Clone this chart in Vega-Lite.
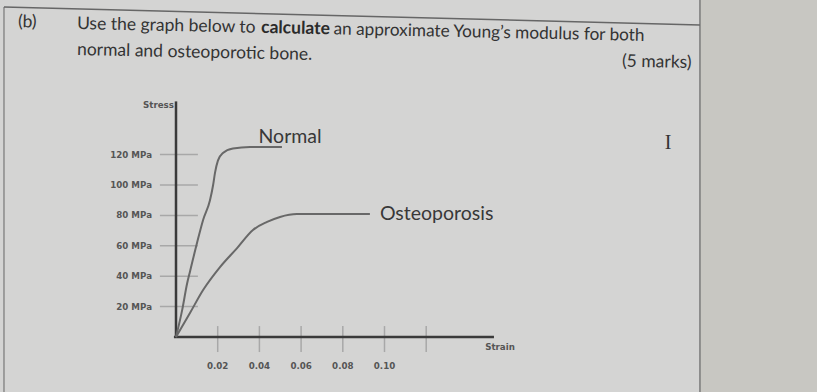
{
  "$schema": "https://vega.github.io/schema/vega-lite/v6.json",
  "width": 817,
  "height": 392,
  "autosize": "none",
  "padding": 0,
  "background": "#d4d4d3",
  "config": {"view": {"stroke": null}, "font": "Lato"},
  "datasets": {
    "curves": [
      {"bone": "Normal", "strain": 0, "stress": 0},
      {"bone": "Normal", "strain": 0.003, "stress": 18},
      {"bone": "Normal", "strain": 0.0053, "stress": 35},
      {"bone": "Normal", "strain": 0.0067, "stress": 43},
      {"bone": "Normal", "strain": 0.0101, "stress": 62},
      {"bone": "Normal", "strain": 0.013, "stress": 77},
      {"bone": "Normal", "strain": 0.0163, "stress": 90},
      {"bone": "Normal", "strain": 0.0178, "stress": 100},
      {"bone": "Normal", "strain": 0.0187, "stress": 108},
      {"bone": "Normal", "strain": 0.0201, "stress": 116},
      {"bone": "Normal", "strain": 0.0225, "stress": 121},
      {"bone": "Normal", "strain": 0.0273, "stress": 124},
      {"bone": "Normal", "strain": 0.0355, "stress": 125},
      {"bone": "Normal", "strain": 0.0508, "stress": 125},
      {"bone": "Osteoporosis", "strain": 0, "stress": 0},
      {"bone": "Osteoporosis", "strain": 0.0067, "stress": 15.8},
      {"bone": "Osteoporosis", "strain": 0.013, "stress": 30.9},
      {"bone": "Osteoporosis", "strain": 0.0211, "stress": 46},
      {"bone": "Osteoporosis", "strain": 0.0293, "stress": 58.5},
      {"bone": "Osteoporosis", "strain": 0.0369, "stress": 70.4},
      {"bone": "Osteoporosis", "strain": 0.0437, "stress": 75.7},
      {"bone": "Osteoporosis", "strain": 0.0499, "stress": 79},
      {"bone": "Osteoporosis", "strain": 0.058, "stress": 80.9},
      {"bone": "Osteoporosis", "strain": 0.093, "stress": 80.9}
    ],
    "xticks": [
      {"strain": 0.02, "label": "0.02"}, {"strain": 0.04, "label": "0.04"}, {"strain": 0.06, "label": "0.06"},
      {"strain": 0.08, "label": "0.08"}, {"strain": 0.1, "label": "0.10"}, {"strain": 0.12, "label": ""}
    ],
    "yticks": [
      {"stress": 20, "label": "20 MPa"}, {"stress": 40, "label": "40 MPa"}, {"stress": 60, "label": "60 MPa"},
      {"stress": 80, "label": "80 MPa"}, {"stress": 100, "label": "100 MPa"}, {"stress": 120, "label": "120 MPa"}
    ]
  },
  "layer": [
    {
      "data": {"values": [{}]},
      "mark": {"type": "rect", "color": "#c8c7c2"},
      "encoding": {
        "x": {"datum": 0.2513, "type": "quantitative", "scale": {"domain": [-0.084412, 0.307434], "nice": false, "zero": false}, "axis": null},
        "x2": {"datum": 0.32},
        "y": {"datum": -40, "type": "quantitative", "scale": {"domain": [-36.18, 221.71], "nice": false, "zero": false}, "axis": null},
        "y2": {"datum": 230}
      }
    },
    {
      "data": {"values": [{}]},
      "mark": {"type": "rule", "color": "#7a7a7a", "strokeWidth": 1.5},
      "encoding": {
        "x": {"datum": 0.2513, "type": "quantitative", "scale": {"domain": [-0.084412, 0.307434], "nice": false, "zero": false}, "axis": null},
        "y": {"datum": -40, "type": "quantitative", "scale": {"domain": [-36.18, 221.71], "nice": false, "zero": false}, "axis": null},
        "y2": {"datum": 230}
      }
    },
    {
      "data": {"values": [{}]},
      "mark": {"type": "rule", "color": "#8a8a8a", "strokeWidth": 1.5},
      "encoding": {
        "x": {"datum": -0.0825, "type": "quantitative", "scale": {"domain": [-0.084412, 0.307434], "nice": false, "zero": false}, "axis": null},
        "y": {"datum": -40, "type": "quantitative", "scale": {"domain": [-36.18, 221.71], "nice": false, "zero": false}, "axis": null},
        "y2": {"datum": 217.1}
      }
    },
    {
      "data": {"values": [{}]},
      "mark": {"type": "rule", "color": "#666666", "strokeWidth": 1.5},
      "encoding": {
        "x": {"datum": -0.0825, "type": "quantitative", "scale": {"domain": [-0.084412, 0.307434], "nice": false, "zero": false}, "axis": null},
        "x2": {"datum": 0.2513},
        "y": {"datum": 217.1, "type": "quantitative", "scale": {"domain": [-36.18, 221.71], "nice": false, "zero": false}, "axis": null},
        "y2": {"datum": 205.3}
      }
    },
    {
      "data": {"name": "xticks"},
      "mark": {"type": "rule", "color": "#a8a8a8", "strokeWidth": 1.5},
      "encoding": {
        "x": {"field": "strain", "type": "quantitative", "scale": {"domain": [-0.084412, 0.307434], "nice": false, "zero": false}, "axis": null},
        "y": {"datum": 7.2, "type": "quantitative", "scale": {"domain": [-36.18, 221.71], "nice": false, "zero": false}, "axis": null},
        "y2": {"datum": -9.9}
      }
    },
    {
      "data": {"name": "yticks"},
      "mark": {"type": "tick", "orient": "horizontal", "size": 38, "thickness": 1.5, "color": "#a8a8a8", "opacity": 1},
      "encoding": {
        "y": {"field": "stress", "type": "quantitative", "scale": {"domain": [-36.18, 221.71], "nice": false, "zero": false}, "axis": null},
        "x": {"datum": 0.0014, "type": "quantitative", "scale": {"domain": [-0.084412, 0.307434], "nice": false, "zero": false}, "axis": null}
      }
    },
    {
      "data": {"name": "xticks"},
      "mark": {"type": "text", "font": "DejaVu Sans", "fontSize": 8.7, "fontWeight": "bold", "color": "#555555", "align": "center", "baseline": "middle"},
      "encoding": {
        "x": {"field": "strain", "type": "quantitative", "scale": {"domain": [-0.084412, 0.307434], "nice": false, "zero": false}, "axis": null},
        "y": {"datum": -19.1, "type": "quantitative", "scale": {"domain": [-36.18, 221.71], "nice": false, "zero": false}, "axis": null},
        "text": {"field": "label"}
      }
    },
    {
      "data": {"name": "yticks"},
      "mark": {"type": "text", "font": "DejaVu Sans", "fontSize": 8.7, "fontWeight": "bold", "color": "#555555", "align": "right", "baseline": "middle"},
      "encoding": {
        "y": {"field": "stress", "type": "quantitative", "scale": {"domain": [-36.18, 221.71], "nice": false, "zero": false}, "axis": null},
        "x": {"datum": -0.01151, "type": "quantitative", "scale": {"domain": [-0.084412, 0.307434], "nice": false, "zero": false}, "axis": null},
        "text": {"field": "label"}
      }
    },
    {
      "data": {"values": [{}]},
      "mark": {"type": "rule", "color": "#3a3a3a", "strokeWidth": 2.5},
      "encoding": {
        "x": {"datum": 0, "type": "quantitative", "scale": {"domain": [-0.084412, 0.307434], "nice": false, "zero": false}, "axis": null},
        "y": {"datum": 0, "type": "quantitative", "scale": {"domain": [-36.18, 221.71], "nice": false, "zero": false}, "axis": null},
        "y2": {"datum": 155}
      }
    },
    {
      "data": {"values": [{}]},
      "mark": {"type": "rule", "color": "#3a3a3a", "strokeWidth": 2.5},
      "encoding": {
        "x": {"datum": -0.001, "type": "quantitative", "scale": {"domain": [-0.084412, 0.307434], "nice": false, "zero": false}, "axis": null},
        "x2": {"datum": 0.1525},
        "y": {"datum": 0, "type": "quantitative", "scale": {"domain": [-36.18, 221.71], "nice": false, "zero": false}, "axis": null}
      }
    },
    {
      "data": {"name": "curves"},
      "mark": {"type": "line", "color": "#686868", "strokeWidth": 2, "interpolate": "monotone"},
      "encoding": {
        "x": {"field": "strain", "type": "quantitative", "scale": {"domain": [-0.084412, 0.307434], "nice": false, "zero": false}, "axis": null},
        "y": {"field": "stress", "type": "quantitative", "scale": {"domain": [-36.18, 221.71], "nice": false, "zero": false}, "axis": null},
        "detail": {"field": "bone"}
      }
    },
    {
      "data": {"values": [{}]},
      "mark": {"type": "text", "text": "Stress", "font": "DejaVu Sans", "fontSize": 8.7, "fontWeight": "bold", "color": "#555555", "align": "center", "baseline": "middle"},
      "encoding": {
        "x": {"datum": -0.0084, "type": "quantitative", "scale": {"domain": [-0.084412, 0.307434], "nice": false, "zero": false}, "axis": null},
        "y": {"datum": 152.6, "type": "quantitative", "scale": {"domain": [-36.18, 221.71], "nice": false, "zero": false}, "axis": null}
      }
    },
    {
      "data": {"values": [{}]},
      "mark": {"type": "text", "text": "Strain", "font": "DejaVu Sans", "fontSize": 8.7, "fontWeight": "bold", "color": "#555555", "align": "center", "baseline": "middle"},
      "encoding": {
        "x": {"datum": 0.1554, "type": "quantitative", "scale": {"domain": [-0.084412, 0.307434], "nice": false, "zero": false}, "axis": null},
        "y": {"datum": -6.6, "type": "quantitative", "scale": {"domain": [-36.18, 221.71], "nice": false, "zero": false}, "axis": null}
      }
    },
    {
      "data": {"values": [{}]},
      "mark": {"type": "text", "text": "Normal", "font": "Lato", "fontSize": 19.5, "color": "#383838", "align": "center", "baseline": "middle"},
      "encoding": {
        "x": {"datum": 0.0547, "type": "quantitative", "scale": {"domain": [-0.084412, 0.307434], "nice": false, "zero": false}, "axis": null},
        "y": {"datum": 131.6, "type": "quantitative", "scale": {"domain": [-36.18, 221.71], "nice": false, "zero": false}, "axis": null}
      }
    },
    {
      "data": {"values": [{}]},
      "mark": {"type": "text", "text": "Osteoporosis", "font": "Lato", "fontSize": 19.5, "color": "#383838", "align": "left", "baseline": "middle"},
      "encoding": {
        "x": {"datum": 0.0978, "type": "quantitative", "scale": {"domain": [-0.084412, 0.307434], "nice": false, "zero": false}, "axis": null},
        "y": {"datum": 80.9, "type": "quantitative", "scale": {"domain": [-36.18, 221.71], "nice": false, "zero": false}, "axis": null}
      }
    },
    {
      "data": {"values": [{}]},
      "mark": {"type": "text", "text": "(b)", "font": "Lato", "fontSize": 17.5, "color": "#333333", "align": "left", "baseline": "middle", "angle": 1.2},
      "encoding": {
        "x": {"datum": -0.07578, "type": "quantitative", "scale": {"domain": [-0.084412, 0.307434], "nice": false, "zero": false}, "axis": null},
        "y": {"datum": 207.2, "type": "quantitative", "scale": {"domain": [-36.18, 221.71], "nice": false, "zero": false}, "axis": null}
      }
    },
    {
      "data": {"values": [{}]},
      "mark": {"type": "text", "text": "Use the graph below to", "font": "Lato", "fontSize": 17.5, "color": "#333333", "align": "left", "baseline": "middle", "angle": 1.2},
      "encoding": {
        "x": {"datum": -0.04748, "type": "quantitative", "scale": {"domain": [-0.084412, 0.307434], "nice": false, "zero": false}, "axis": null},
        "y": {"datum": 205.9, "type": "quantitative", "scale": {"domain": [-36.18, 221.71], "nice": false, "zero": false}, "axis": null}
      }
    },
    {
      "data": {"values": [{}]},
      "mark": {"type": "text", "text": "calculate", "font": "Lato", "fontSize": 17.5, "fontWeight": "bold", "color": "#2a2a2a", "align": "left", "baseline": "middle", "angle": 1.2},
      "encoding": {
        "x": {"datum": 0.0408, "type": "quantitative", "scale": {"domain": [-0.084412, 0.307434], "nice": false, "zero": false}, "axis": null},
        "y": {"datum": 203.4, "type": "quantitative", "scale": {"domain": [-36.18, 221.71], "nice": false, "zero": false}, "axis": null}
      }
    },
    {
      "data": {"values": [{}]},
      "mark": {"type": "text", "text": "an approximate Young’s modulus for both", "font": "Lato", "fontSize": 17.2, "color": "#333333", "align": "left", "baseline": "middle", "angle": 1.2},
      "encoding": {
        "x": {"datum": 0.0756, "type": "quantitative", "scale": {"domain": [-0.084412, 0.307434], "nice": false, "zero": false}, "axis": null},
        "y": {"datum": 202.4, "type": "quantitative", "scale": {"domain": [-36.18, 221.71], "nice": false, "zero": false}, "axis": null}
      }
    },
    {
      "data": {"values": [{}]},
      "mark": {"type": "text", "text": "normal and osteoporotic bone.", "font": "Lato", "fontSize": 17.5, "color": "#333333", "align": "left", "baseline": "middle", "angle": 1.2},
      "encoding": {
        "x": {"datum": -0.04748, "type": "quantitative", "scale": {"domain": [-0.084412, 0.307434], "nice": false, "zero": false}, "axis": null},
        "y": {"datum": 188.8, "type": "quantitative", "scale": {"domain": [-36.18, 221.71], "nice": false, "zero": false}, "axis": null}
      }
    },
    {
      "data": {"values": [{}]},
      "mark": {"type": "text", "text": "(5 marks)", "font": "Lato", "fontSize": 17.5, "color": "#333333", "align": "left", "baseline": "middle", "angle": 1.2},
      "encoding": {
        "x": {"datum": 0.21391, "type": "quantitative", "scale": {"domain": [-0.084412, 0.307434], "nice": false, "zero": false}, "axis": null},
        "y": {"datum": 181.2, "type": "quantitative", "scale": {"domain": [-36.18, 221.71], "nice": false, "zero": false}, "axis": null}
      }
    },
    {
      "data": {"values": [{}]},
      "mark": {"type": "text", "text": "I", "font": "Liberation Serif", "fontSize": 20, "color": "#333333", "align": "center", "baseline": "middle"},
      "encoding": {
        "x": {"datum": 0.236, "type": "quantitative", "scale": {"domain": [-0.084412, 0.307434], "nice": false, "zero": false}, "axis": null},
        "y": {"datum": 127.6, "type": "quantitative", "scale": {"domain": [-36.18, 221.71], "nice": false, "zero": false}, "axis": null}
      }
    }
  ]
}
